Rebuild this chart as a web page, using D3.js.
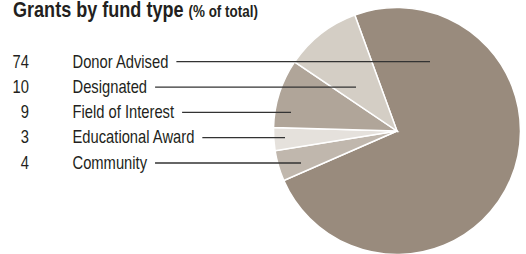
<!DOCTYPE html>
<html>
<head>
<meta charset="utf-8">
<script src="https://cdn.jsdelivr.net/npm/d3@7"></script>
<style>
  body { margin: 0; background: #fff; }
  text { font-family: "Liberation Sans", Arial, sans-serif; }
</style>
</head>
<body>
<div id="chart"></div>
<script>
// Data (pie order, clockwise from the top)
const categories = ['Donor Advised', 'Community', 'Educational Award', 'Field of Interest', 'Designated'];
const shares = [74, 4, 3, 9, 10];
// Legend order, top to bottom
const legendOrder = ['Donor Advised', 'Designated', 'Field of Interest', 'Educational Award', 'Community'];

const colors = ['#998b7d', '#c0b7ad', '#e5e1dc', '#b0a599', '#d4cec5'];
// where each leader line stops, x offset from the pie centre
const leaderEnd = {'Donor Advised': 33, 'Designated': -41, 'Field of Interest': -106, 'Educational Award': -112, 'Community': -96};

const width = 526, height = 254;
const cx = 397, cy = 131, radius = 123.5;
const squeeze = 0.82; // condensed look, no narrow font available

const svg = d3.select("#chart")
    .append("svg")
    .attr("width", width)
    .attr("height", height);

// Title
const title = svg.append("text")
    .attr("transform", `translate(13,16.5) scale(0.84,1)`)
    .attr("fill", "#231f20")
    .style("font-weight", "bold")
    .style("font-size", "21.5px");
title.append("tspan").text("Grants by fund type ");
title.append("tspan").style("font-size", "16px").text("(% of total)");

// Pie
const pie = d3.pie()
    .sort(null)
    .value(d => d.value)
    .startAngle(-20 * Math.PI / 180)
    .endAngle(340 * Math.PI / 180);

const arc = d3.arc().innerRadius(0).outerRadius(radius);

const pieData = pie(categories.map((c, i) => ({ name: c, value: shares[i] })));

const color = d3.scaleOrdinal().domain(categories).range(colors);

svg.append("g")
    .attr("transform", `translate(${cx},${cy})`)
    .selectAll("path")
    .data(pieData)
    .enter()
    .append("path")
    .attr("d", arc)
    .attr("fill", d => color(d.data.name))
    .attr("stroke", "#fff")
    .attr("stroke-width", 1.5);

// Legend rows
const y = d3.scalePoint()
    .domain(legendOrder)
    .range([61.7, 163]);

const rows = svg.append("g")
    .selectAll("g")
    .data(legendOrder)
    .enter()
    .append("g");

rows.append("text")
    .attr("transform", d => `translate(29,${y(d) + 5.8}) scale(${squeeze},1)`)
    .attr("text-anchor", "end")
    .attr("fill", "#231f20")
    .style("font-size", "18px")
    .text(d => shares[categories.indexOf(d)]);

rows.append("text")
    .attr("class", "name")
    .attr("transform", d => `translate(72.5,${y(d) + 5.8}) scale(${squeeze},1)`)
    .attr("fill", "#231f20")
    .style("font-size", "18px")
    .text(d => d);

rows.append("line")
    .attr("x1", function() { return 72.5 + this.parentNode.querySelector(".name").getComputedTextLength() * squeeze + 8; })
    .attr("x2", d => cx + leaderEnd[d])
    .attr("y1", d => y(d))
    .attr("y2", d => y(d))
    .attr("stroke", "#333")
    .attr("stroke-width", 1.3);
</script>
</body>
</html>
